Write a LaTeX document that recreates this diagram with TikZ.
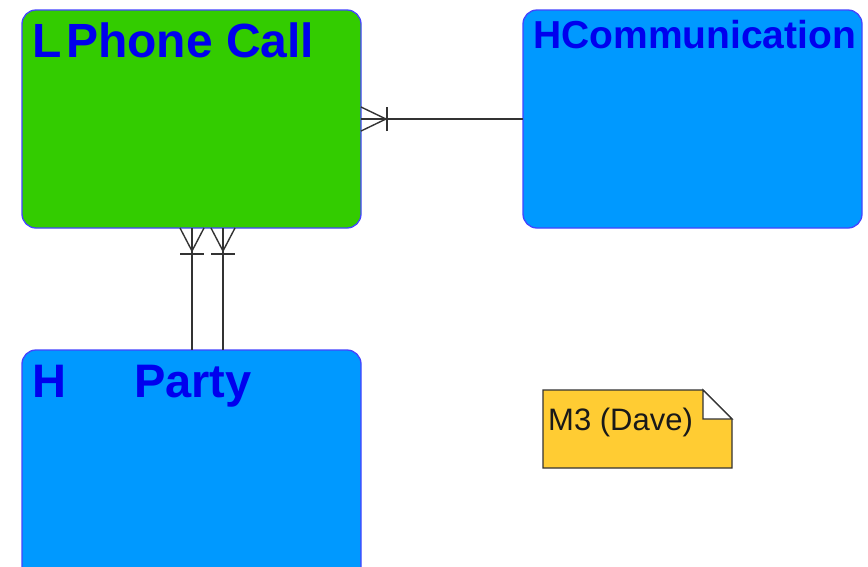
\documentclass[tikz,border=0pt]{standalone}
\usepackage{fontspec}
\setmainfont{Liberation Sans}
\usetikzlibrary{calc}
\definecolor{entgreen}{HTML}{33CC00}
\definecolor{entblue}{HTML}{0099FF}
\definecolor{titleblue}{HTML}{0000EE}
\definecolor{edgeblue}{HTML}{4444FF}
\definecolor{linegray}{HTML}{333333}
\definecolor{notey}{HTML}{FFCC33}
\begin{document}
\begin{tikzpicture}[x=1pt,y=-1pt,
  entity/.style={draw=edgeblue, line width=1.3pt, rounded corners=14pt, inner sep=0pt, outer sep=0pt},
  title/.style={anchor=base west, inner sep=0pt, text=titleblue, font=\bfseries\fontsize{#1}{#1}\selectfont},
  rel/.style={draw=linegray, line width=1.4pt},
  notetext/.style={anchor=base west, inner sep=0pt, text=black!90, font=\fontsize{31}{31}\selectfont}]
\useasboundingbox (0,0) rectangle (868,566);
\clip (0,0) rectangle (868,566);
\fill[white] (0,0) rectangle (868,566);
% entities
\node[entity, fill=entgreen, minimum width=339pt, minimum height=218pt] (pc) at (191.5,119) {};
\node[entity, fill=entblue, minimum width=339pt, minimum height=218pt] (comm) at (692.5,119) {};
\node[entity, fill=entblue, minimum width=339pt, minimum height=260pt] (party) at (191.5,480) {};
% titles
\node[title=48] (pct) at (32.5,57) {L\hspace{4pt}Phone Call};
\node[title=39] (ct) at (533,48) {HCommunication};
\node[title=47] (ph) at (32.5,397) {H};
\node[title=47] (pt) at (134,397) {Party};
% relationship Communication -> Phone Call
\draw[rel] (comm.west) -- (pc.east);
\draw[rel] ([yshift=-12pt]pc.east) -- ([xshift=25pt]pc.east) -- ([yshift=12pt]pc.east);
\draw[rel] ([xshift=26pt,yshift=-12pt]pc.east) -- ([xshift=26pt,yshift=12pt]pc.east);
% relationships Party -> Phone Call
\foreach \dx in {0.5,31.5}{
  \draw[rel] ([xshift=\dx pt]pc.south) -- ([xshift=\dx pt]party.north);
  \draw[rel] ([xshift=\dx pt-12pt]pc.south) -- ([xshift=\dx pt,yshift=-23pt]pc.south) -- ([xshift=\dx pt+12pt]pc.south);
  \draw[rel] ([xshift=\dx pt-12pt,yshift=-26pt]pc.south) -- ([xshift=\dx pt+12pt,yshift=-26pt]pc.south);
}
% note
\node[inner sep=0pt, outer sep=0pt, minimum width=189pt, minimum height=78pt] (note) at (637.5,429) {};
\draw[draw=linegray, line width=1.3pt, fill=notey] (note.south west) -- (note.north west) -- ([xshift=-29pt]note.north east) -- ([yshift=-29pt]note.north east) -- (note.south east) -- cycle;
\draw[draw=linegray, line width=1.3pt, fill=white] ([xshift=-29pt]note.north east) -- ([xshift=-29pt,yshift=-29pt]note.north east) -- ([yshift=-29pt]note.north east) -- cycle;
\node[notetext] (nt) at (548,430) {M3 (Dave)};
\end{tikzpicture}
\end{document}
